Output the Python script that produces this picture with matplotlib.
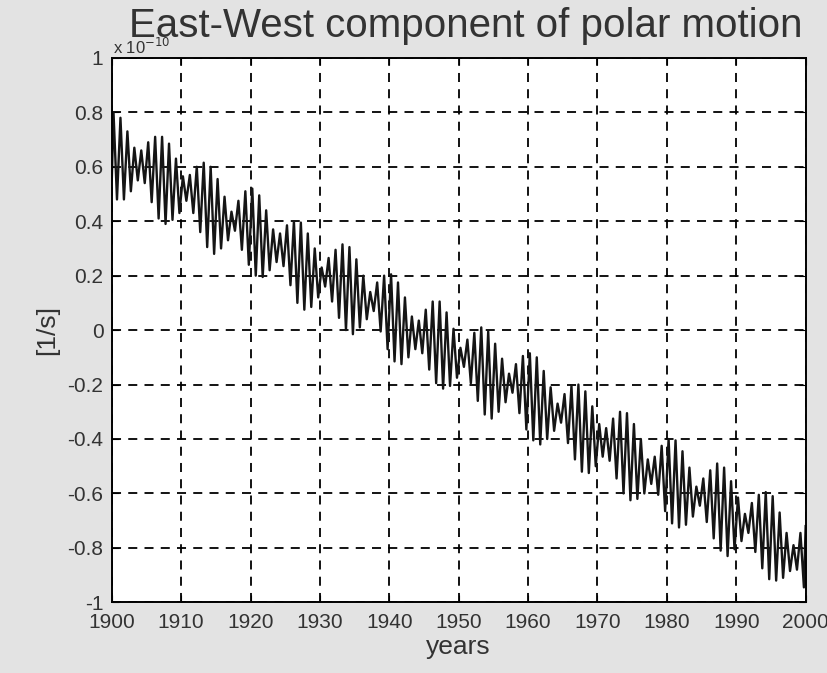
import matplotlib
matplotlib.use("Agg")
import matplotlib.pyplot as plt
import numpy as np

plt.rcParams['font.family'] = ['Liberation Sans', 'DejaVu Sans']

# one maximum and one minimum per year, 1900 ... 1999 (units of 1e-10 1/s)
hi = [0.80, 0.78, 0.73, 0.67, 0.66, 0.69, 0.71, 0.71, 0.685, 0.63,
      0.565, 0.57, 0.60, 0.615, 0.60, 0.555, 0.49, 0.435, 0.475, 0.51,
      0.52, 0.495, 0.44, 0.37, 0.355, 0.385, 0.40, 0.395, 0.355, 0.30,
      0.23, 0.265, 0.295, 0.315, 0.305, 0.26, 0.20, 0.14, 0.175, 0.20,
      0.205, 0.175, 0.12, 0.05, 0.035, 0.075, 0.105, 0.105, 0.065, 0.005,
      -0.065, -0.035, -0.01, 0.01, -0.005, -0.05, -0.105, -0.16, -0.125, -0.095,
      -0.085, -0.10, -0.15, -0.21, -0.27, -0.235, -0.205, -0.20, -0.225, -0.28,
      -0.345, -0.36, -0.325, -0.30, -0.305, -0.345, -0.40, -0.475, -0.465, -0.425,
      -0.40, -0.405, -0.445, -0.505, -0.575, -0.545, -0.515, -0.49, -0.505, -0.555,
      -0.615, -0.675, -0.635, -0.605, -0.595, -0.61, -0.67, -0.745, -0.79, -0.745]
lo = [0.48, 0.48, 0.51, 0.55, 0.54, 0.47, 0.41, 0.39, 0.405, 0.43,
      0.475, 0.43, 0.36, 0.305, 0.28, 0.30, 0.33, 0.365, 0.295, 0.24,
      0.20, 0.195, 0.22, 0.25, 0.235, 0.165, 0.10, 0.075, 0.085, 0.12,
      0.16, 0.105, 0.045, 0.0, -0.015, 0.01, 0.04, 0.07, -0.005, -0.07,
      -0.115, -0.125, -0.10, -0.07, -0.085, -0.145, -0.195, -0.215, -0.205, -0.175,
      -0.135, -0.195, -0.26, -0.31, -0.325, -0.30, -0.265, -0.23, -0.305, -0.365,
      -0.405, -0.42, -0.40, -0.37, -0.34, -0.415, -0.475, -0.52, -0.525, -0.50,
      -0.465, -0.48, -0.545, -0.60, -0.625, -0.62, -0.60, -0.565, -0.605, -0.665,
      -0.71, -0.725, -0.715, -0.685, -0.645, -0.705, -0.765, -0.81, -0.83, -0.805,
      -0.775, -0.745, -0.815, -0.875, -0.915, -0.92, -0.91, -0.885, -0.88, -0.945]
start_value = 0.55
end_value = -0.72

years = np.arange(1900, 2000)
t = [1900.0]
v = [start_value]
for y, a, b in zip(years, hi, lo):
    t += [y + 0.25, y + 0.75]
    v += [a, b]
t.append(2000.0)
v.append(end_value)

fig = plt.figure(figsize=(8.28, 6.73), dpi=100, facecolor='#e3e3e3')
ax = fig.add_axes([0.135, 0.105, 0.838, 0.809])
ax.set_facecolor('white')

ax.plot(t, v, color='#151515', linewidth=1.7)

ax.set_xlim(1900, 2000)
ax.set_ylim(-1, 1)
ax.set_xticks(np.arange(1900, 2001, 10))
yt = np.arange(-1, 1.01, 0.2)
ax.set_yticks(yt)
ax.set_yticklabels(['-1', '-0.8', '-0.6', '-0.4', '-0.2', '0', '0.2', '0.4', '0.6', '0.8', '1'])
ax.tick_params(direction='in', top=True, right=True, length=5, labelsize=15,
               labelcolor='#333333')
ax.tick_params(axis='x', pad=8)
ax.tick_params(axis='y', pad=6)
ax.grid(True, color='black', linestyle=(0, (5, 4)), linewidth=1.3)
for s in ax.spines.values():
    s.set_linewidth(1.4)

ax.set_xlabel('years', fontsize=19, labelpad=2, color='#333333')
ax.set_ylabel('[1/s]', fontsize=19, labelpad=6, color='#333333')
fig.text(0.137, 0.916, r'x 10$^{-10}$', fontsize=12, ha='left', va='bottom', color='#333333')
fig.text(0.562, 0.945, 'East-West component of polar motion', fontsize=29,
         ha='center', va='baseline', color='#333333')

fig.savefig('out.png', dpi=100, facecolor=fig.get_facecolor())
